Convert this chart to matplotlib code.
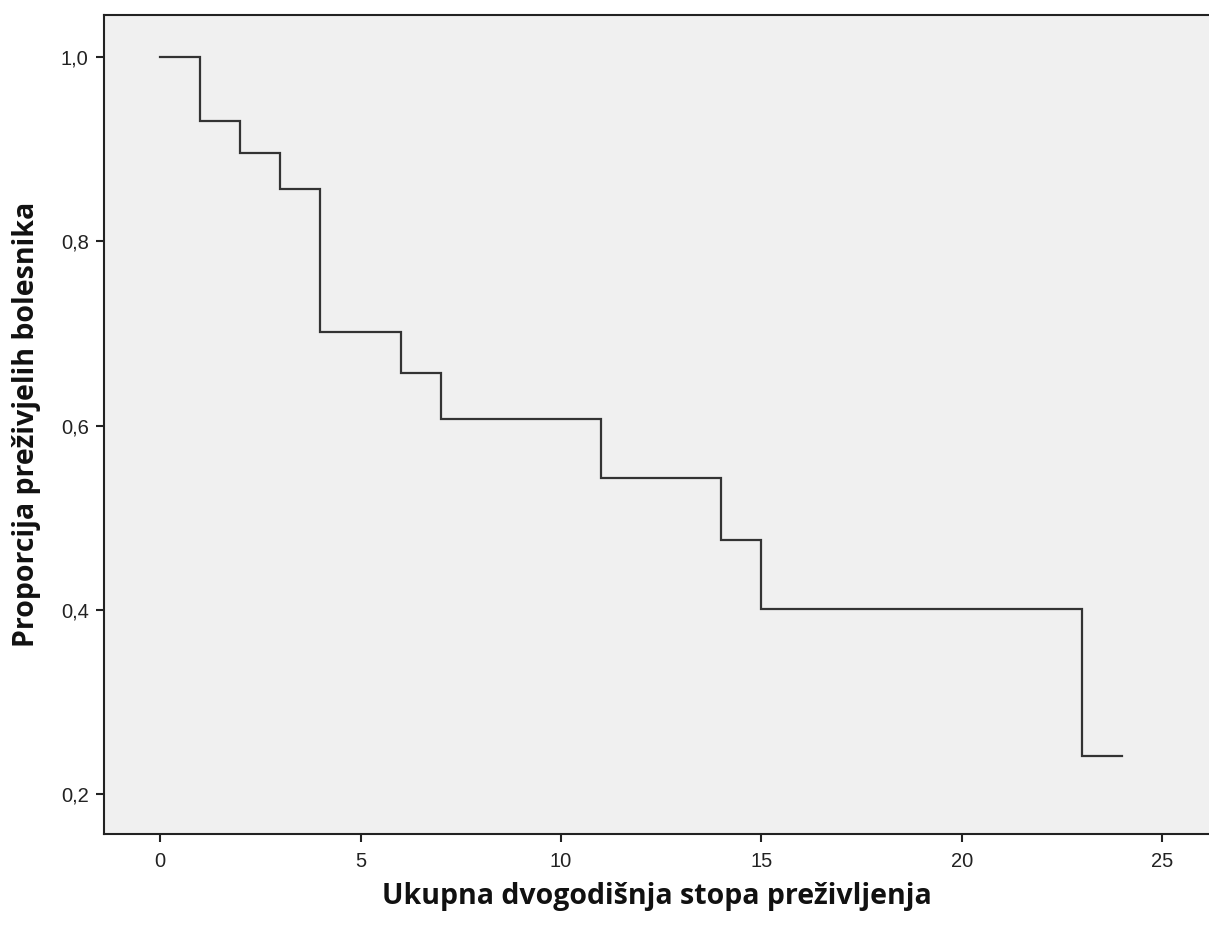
import matplotlib
matplotlib.use("Agg")
import matplotlib.pyplot as plt

# Kaplan-Meier step data (time, survival proportion after the event)
times = [0, 1, 2, 3, 4, 6, 7, 11, 14, 15, 23, 24]
survival = [1.0, 0.931, 0.8955, 0.857, 0.7018, 0.6573, 0.6067, 0.5427, 0.4757, 0.4011, 0.2416, 0.2416]

x_ticks = [0, 5, 10, 15, 20, 25]
y_ticks = [0.2, 0.4, 0.6, 0.8, 1.0]
y_tick_labels = ["0,2", "0,4", "0,6", "0,8", "1,0"]

x_label = "Ukupna dvogodišnja stopa preživljenja"
y_label = "Proporcija preživjelih bolesnika"

plt.rcParams['font.family'] = ['Liberation Sans', 'DejaVu Sans']

fig = plt.figure(figsize=(12.09, 9.26), dpi=100)
ax = fig.add_axes([104/1209, (926-834)/926, 1 - 104/1209, (834-15)/926])
ax.set_facecolor("#F0F0F0")

ax.step(times, survival, where="post", color="#333333", linewidth=1.6, solid_joinstyle="miter")

ax.set_xlim(-1.397, 26.16)
ax.set_ylim(0.1566, 1.0456)
ax.set_xticks(x_ticks)
ax.set_xticklabels([str(t) for t in x_ticks])
ax.set_yticks(y_ticks)
ax.set_yticklabels(y_tick_labels)

for side in ["left", "bottom", "top"]:
    ax.spines[side].set_color("#222222")
    ax.spines[side].set_linewidth(1.5)
ax.spines["right"].set_visible(False)

ax.tick_params(axis="both", direction="out", length=6, width=1.5, color="#222222",
               labelsize=14.5, labelcolor="#222222")
ax.tick_params(axis="x", pad=7)
ax.tick_params(axis="y", pad=5)

label_font = dict(fontsize=20.5, fontweight="bold", color="#111111",
                  family=['Open Sans', 'DejaVu Sans'])
ax.set_xlabel(x_label, labelpad=8, **label_font)
ax.set_ylabel(y_label, labelpad=14, **label_font)

fig.savefig("out.png", dpi=100, facecolor="white")
